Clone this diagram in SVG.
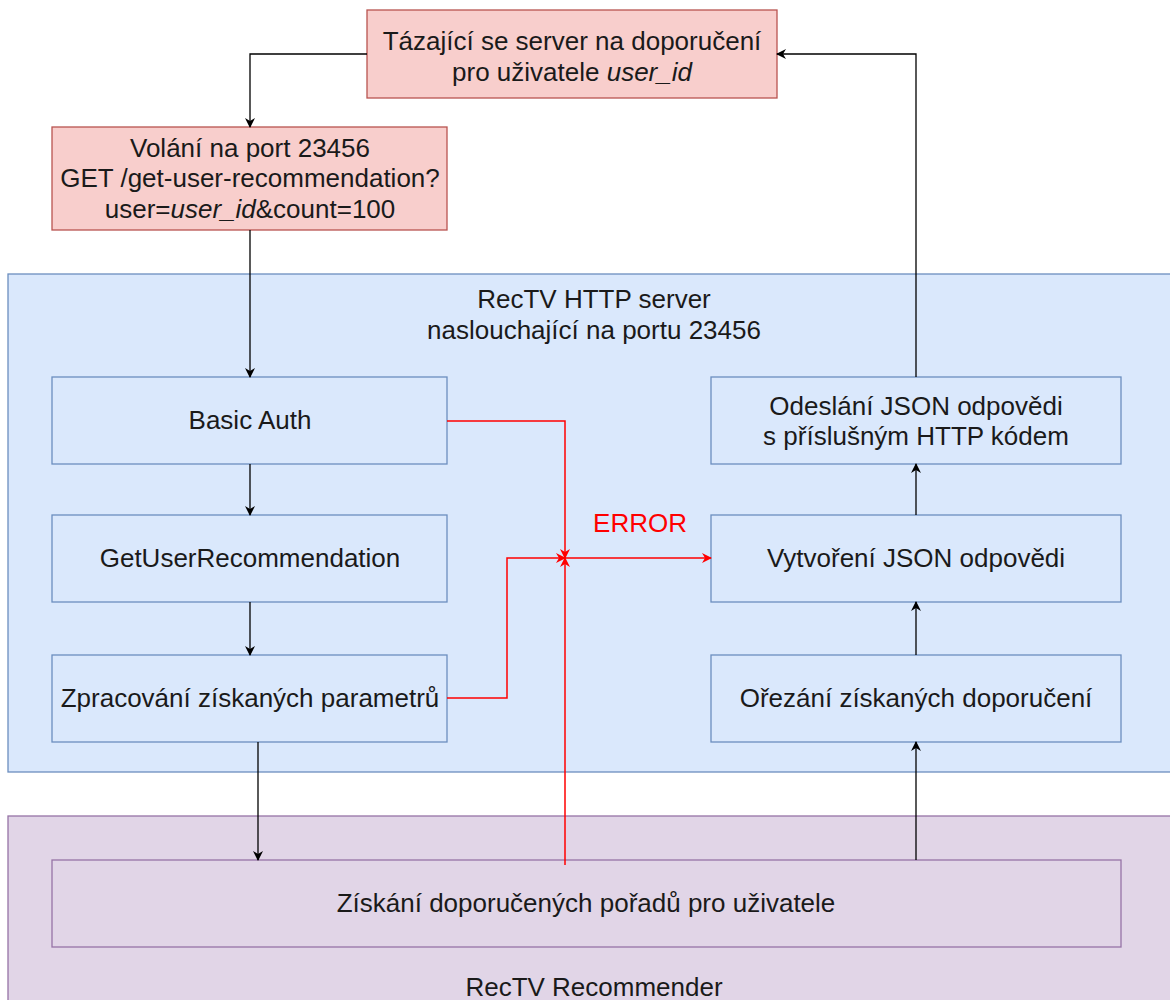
<svg xmlns="http://www.w3.org/2000/svg" width="1170" height="1000" viewBox="0 0 1170 1000">
<style>
text{font-family:"Liberation Sans",Arial,sans-serif;font-size:26px;fill:#1a1a1a;text-anchor:middle}
.red{fill:#f8cecc;stroke:#b85450;stroke-width:1.3}
.blue{fill:#dae8fc;stroke:#6c8ebf;stroke-width:1.3}
.purple{fill:#e1d5e7;stroke:#9673a6;stroke-width:1.3}
.c{fill:none;stroke:#000;stroke-width:1.3}
.e{fill:none;stroke:#ff0000;stroke-width:1.5}
.err{fill:#ff0000}
</style>
<defs>
<marker id="a" viewBox="0 0 10 10" refX="9" refY="5" markerWidth="10" markerHeight="10" markerUnits="userSpaceOnUse" orient="auto"><path d="M0,0 L10,5 L0,10 L3,5 Z" fill="#000"/></marker>
<marker id="ar" viewBox="0 0 10 10" refX="9" refY="5" markerWidth="10" markerHeight="10" markerUnits="userSpaceOnUse" orient="auto"><path d="M0,0 L10,5 L0,10 L3,5 Z" fill="#ff0000"/></marker>
</defs>
<g id="http-server"><rect class="blue" x="8" y="274" width="1170" height="498"/>
<text x="594" y="308">RecTV HTTP server</text><text x="594" y="339">naslouchající na portu 23456</text></g>
<g id="recommender"><rect class="purple" x="8" y="816" width="1170" height="200"/>
<text x="594" y="996">RecTV Recommender</text></g>
<g id="requester"><rect class="red" x="367" y="10" width="410" height="88"/>
<text x="572" y="50">Tázající se server na doporučení</text>
<text x="572" y="81">pro uživatele <tspan font-style="italic">user_id</tspan></text></g>
<g id="request"><rect class="red" x="52" y="127" width="395" height="103"/>
<text x="250" y="157">Volání na port 23456</text>
<text x="250" y="187">GET /get-user-recommendation?</text>
<text x="250" y="218">user=<tspan font-style="italic">user_id</tspan>&amp;count=100</text></g>
<g id="basic-auth"><rect class="blue" x="52" y="377" width="395" height="87"/><text x="250" y="429">Basic Auth</text></g>
<g id="get-user"><rect class="blue" x="52" y="515" width="395" height="87"/><text x="250" y="567">GetUserRecommendation</text></g>
<g id="process"><rect class="blue" x="52" y="655" width="395" height="87"/><text x="250" y="707">Zpracování získaných parametrů</text></g>
<g id="send"><rect class="blue" x="711" y="377" width="410" height="87"/>
<text x="916" y="415">Odeslání JSON odpovědi</text><text x="916" y="445">s příslušným HTTP kódem</text></g>
<g id="create"><rect class="blue" x="711" y="515" width="410" height="87"/><text x="916" y="567">Vytvoření JSON odpovědi</text></g>
<g id="trim"><rect class="blue" x="711" y="655" width="410" height="87"/><text x="916" y="707">Ořezání získaných doporučení</text></g>
<g id="fetch"><rect class="purple" x="52" y="860" width="1069" height="87"/><text x="586" y="912">Získání doporučených pořadů pro uživatele</text></g>
<g id="connectors">
<path class="c" d="M367,54 H250 V127" marker-end="url(#a)"/>
<path class="c" d="M250,230 V377" marker-end="url(#a)"/>
<path class="c" d="M250,464 V515" marker-end="url(#a)"/>
<path class="c" d="M250,602 V655" marker-end="url(#a)"/>
<path class="c" d="M258,742 V860" marker-end="url(#a)"/>
<path class="c" d="M916,860 V742" marker-end="url(#a)"/>
<path class="c" d="M916,655 V602" marker-end="url(#a)"/>
<path class="c" d="M916,515 V464" marker-end="url(#a)"/>
<path class="c" d="M916,377 V54 H777" marker-end="url(#a)"/>
<path class="e" d="M447,421 H565 V558" marker-end="url(#ar)"/>
<path class="e" d="M447,698 H507 V558 H565" marker-end="url(#ar)"/>
<path class="e" d="M565,865 V558" marker-end="url(#ar)"/>
<path class="e" d="M565,558 H711" marker-end="url(#ar)"/>
<text class="err" x="640" y="532">ERROR</text>
</g>
</svg>
